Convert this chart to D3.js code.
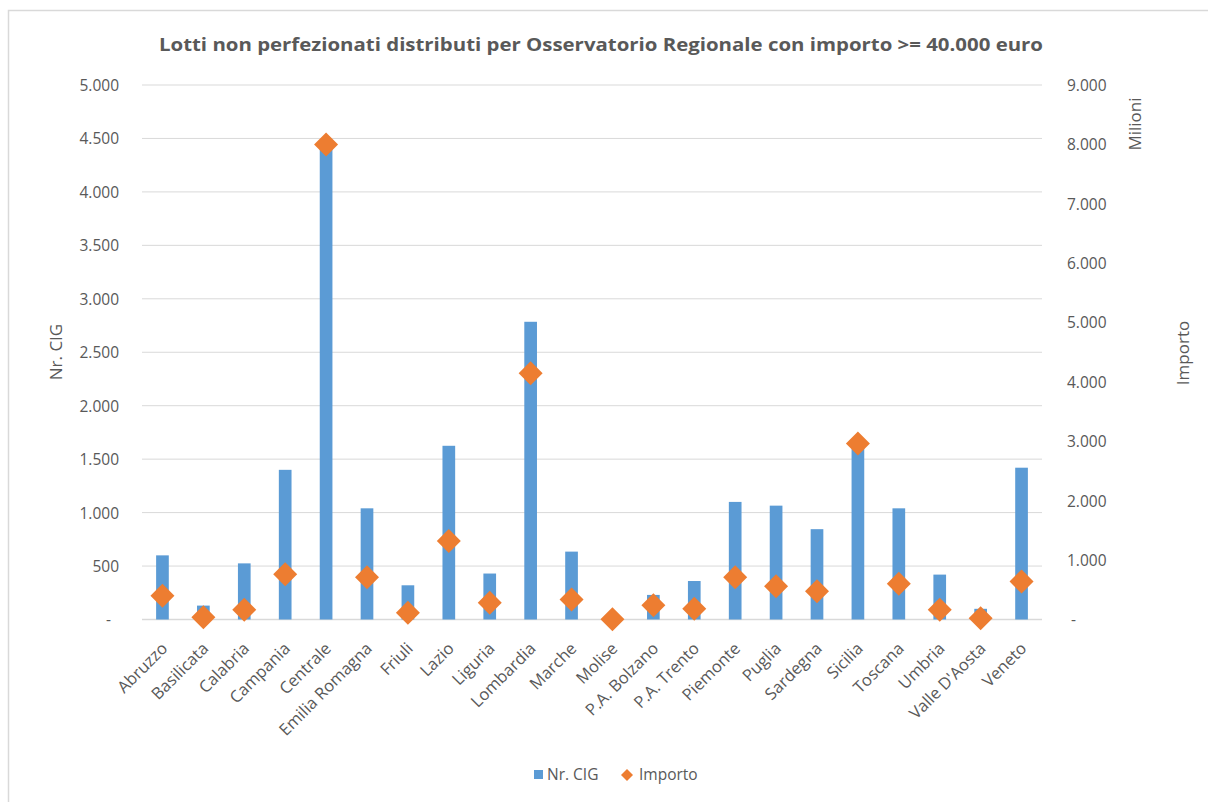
<!DOCTYPE html>
<html>
<head>
<meta charset="utf-8">
<script src="https://cdn.jsdelivr.net/npm/d3@7"></script>
<style>
  body { margin: 0; background: #fff; }
  text { font-family: "Open Sans", "Liberation Sans", sans-serif; fill: #595959; }
</style>
</head>
<body>
<svg id="chart" width="1208" height="802"></svg>
<script>
// categories and values
var regions = ["Abruzzo", "Basilicata", "Calabria", "Campania", "Centrale", "Emilia Romagna", "Friuli",
    "Lazio", "Liguria", "Lombardia", "Marche", "Molise", "P.A. Bolzano", "P.A. Trento", "Piemonte",
    "Puglia", "Sardegna", "Sicilia", "Toscana", "Umbria", "Valle D'Aosta", "Veneto"];
var nrCig = [600, 130, 525, 1400, 4470, 1040, 320, 1625, 430, 2785, 635, 5, 230, 360, 1100,
    1065, 845, 1640, 1040, 420, 100, 1420];
// importo in milioni di euro
var importo = [400, 37, 165, 760, 8000, 710, 115, 1320, 280, 4145, 335, 3, 240, 180, 710,
    560, 475, 2965, 600, 165, 20, 640];
var leftTicks = [0, 500, 1000, 1500, 2000, 2500, 3000, 3500, 4000, 4500, 5000];
var rightTicks = [0, 1000, 2000, 3000, 4000, 5000, 6000, 7000, 8000, 9000];

var blue = "#5b9bd5", orange = "#ed7d31", grid = "#d9d9d9";
var it = d3.formatLocale({decimal: ",", thousands: ".", grouping: [3], currency: ["", "€"]});
var fmt = function(v) { return v === 0 ? "-" : it.format(",")(v); };

var svg = d3.select("#chart");
var plotLeft = 142, plotRight = 1042, plotTop = 85, plotBottom = 619.5;

// outer frame
svg.append("rect").attr("x", 8.5).attr("y", 10.5).attr("width", 1210).attr("height", 800)
    .attr("fill", "none").attr("stroke", grid).attr("stroke-width", 1.5);

var x = d3.scaleBand().domain(regions).range([plotLeft, plotRight]).paddingInner(0.69).paddingOuter(0.345);
var yL = d3.scaleLinear().domain([0, 5000]).range([plotBottom, plotTop]);
var yR = d3.scaleLinear().domain([0, 9000]).range([plotBottom, plotTop]);

// gridlines
svg.append("g").selectAll("line").data(leftTicks).enter()
    .append("line")
    .attr("x1", plotLeft).attr("x2", plotRight)
    .attr("y1", function(d) { return yL(d); })
    .attr("y2", function(d) { return yL(d); })
    .attr("stroke", grid).attr("stroke-width", function(d) { return d === 0 ? 1.5 : 1; });

// left axis
var axL = svg.append("g").attr("transform", "translate(" + (plotLeft - 23) + ",0)")
    .call(d3.axisLeft(yL).tickValues(leftTicks).tickFormat(fmt).tickSize(0));
axL.select(".domain").remove();
axL.selectAll("text").attr("font-size", "15.5px").attr("fill", "#595959").attr("dy", "0.35em")
    .attr("x", function(d) { return d === 0 ? -8 : 0; });

// right axis
var axR = svg.append("g").attr("transform", "translate(" + (plotRight + 25) + ",0)")
    .call(d3.axisRight(yR).tickValues(rightTicks).tickFormat(fmt).tickSize(0));
axR.select(".domain").remove();
axR.selectAll("text").attr("font-size", "15.5px").attr("fill", "#595959").attr("dy", "0.35em")
    .attr("x", function(d) { return d === 0 ? 4 : 0; });

// bars
svg.append("g").selectAll("rect").data(nrCig).enter()
    .append("rect")
    .attr("x", function(d, i) { return x(regions[i]); })
    .attr("width", x.bandwidth())
    .attr("y", function(d) { return yL(d); })
    .attr("height", function(d) { return yL(0) - yL(d); })
    .attr("fill", blue);

// diamonds
var dsize = 12;
svg.append("g").selectAll("path").data(importo).enter()
    .append("path")
    .attr("d", function(d, i) {
        var cx = x(regions[i]) + x.bandwidth() / 2, cy = yR(d);
        return "M" + cx + "," + (cy - dsize) + "L" + (cx + dsize) + "," + cy +
            "L" + cx + "," + (cy + dsize) + "L" + (cx - dsize) + "," + cy + "Z";
    })
    .attr("fill", orange);

// category labels
svg.append("g").selectAll("text").data(regions).enter()
    .append("text")
    .attr("transform", function(d) {
        return "translate(" + (x(d) + x.bandwidth() / 2 + 2) + "," + (plotBottom + 26) + ") rotate(-45)";
    })
    .attr("text-anchor", "end")
    .attr("dy", "0.35em")
    .attr("font-size", "16.5px")
    .text(function(d) { return d; });

// title
svg.append("text")
    .attr("x", 601).attr("y", 51)
    .attr("text-anchor", "middle")
    .attr("font-size", "18px").attr("font-weight", "bold")
    .attr("textLength", 884).attr("lengthAdjust", "spacingAndGlyphs")
    .text("Lotti non perfezionati distributi per Osservatorio Regionale con importo >= 40.000 euro");

// axis titles
svg.append("text").attr("transform", "translate(62,352) rotate(-90)")
    .attr("text-anchor", "middle").attr("font-size", "17px").text("Nr. CIG");
svg.append("text").attr("transform", "translate(1141,124) rotate(-90)")
    .attr("text-anchor", "middle").attr("font-size", "17px").text("Milioni");
svg.append("text").attr("transform", "translate(1189,353) rotate(-90)")
    .attr("text-anchor", "middle").attr("font-size", "17px").text("Importo");

// legend
var lg = svg.append("g").attr("transform", "translate(0,775)");
lg.append("rect").attr("x", 534).attr("y", -5).attr("width", 9).attr("height", 9).attr("fill", blue);
lg.append("text").attr("x", 547).attr("dy", "0.35em").attr("font-size", "15.5px").text("Nr. CIG");
lg.append("path").attr("d", "M627,-6L633,0L627,6L621,0Z").attr("fill", orange);
lg.append("text").attr("x", 639).attr("dy", "0.35em").attr("font-size", "15.5px").text("Importo");
</script>
</body>
</html>
